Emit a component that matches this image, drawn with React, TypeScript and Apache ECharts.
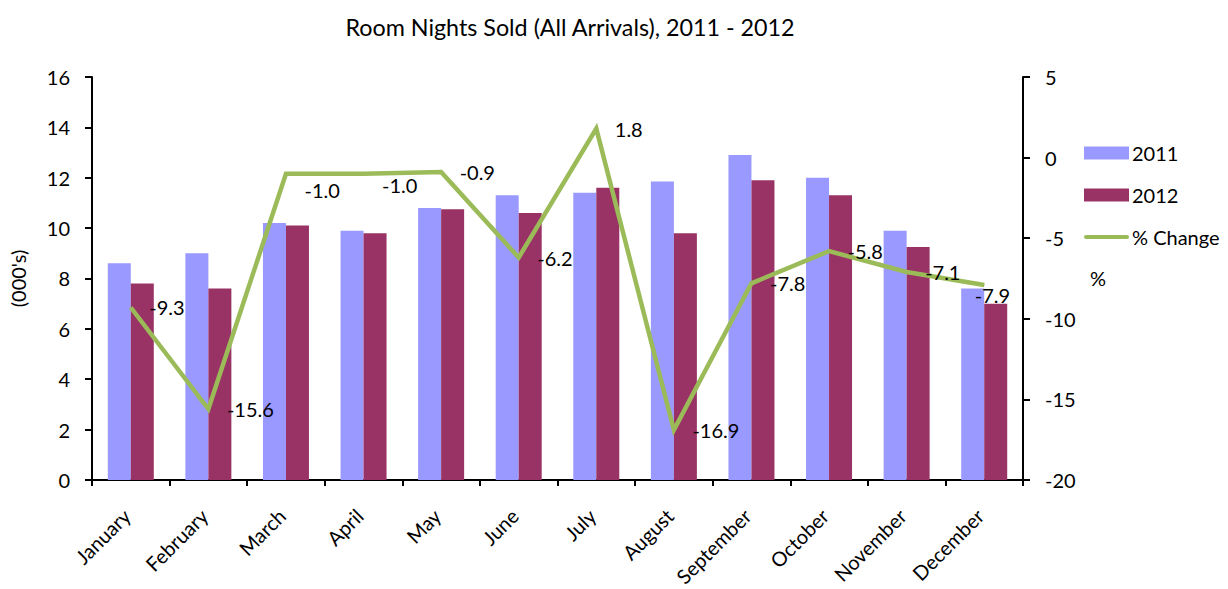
import React, { useEffect, useRef } from "react";
import * as echarts from "echarts";

const months = ["January", "February", "March", "April", "May", "June", "July", "August", "September", "October", "November", "December"];
const sold2011 = [8.6, 9.0, 10.2, 9.9, 10.8, 11.3, 11.4, 11.85, 12.9, 12.0, 9.9, 7.6];
const sold2012 = [7.8, 7.6, 10.1, 9.8, 10.75, 10.6, 11.6, 9.8, 11.9, 11.3, 9.25, 7.0];
const pctChange = [-9.3, -15.6, -1.0, -1.0, -0.9, -6.2, 1.8, -16.9, -7.8, -5.8, -7.1, -7.9];
// label nudges (dx, dy) per month for the % Change labels
const labelNudge: Record<number, [number, number]> = { 2: [0, 16], 3: [0, 11], 11: [-28, 10] };

const FONT = "Lato, 'Open Sans', sans-serif";
const FS = 20;

export default function App() {
  const ref = useRef<HTMLDivElement>(null);
  useEffect(() => {
    document.body.style.margin = "0";
    const chart = echarts.init(ref.current!, null, { renderer: "svg" });
    chart.setOption({
      animation: false,
      backgroundColor: "#ffffff",
      textStyle: { fontFamily: FONT, color: "#000" },
      title: {
        text: "Room Nights Sold (All Arrivals), 2011 - 2012",
        left: 570,
        textAlign: "center",
        top: 15,
        padding: 0,
        textStyle: { fontFamily: FONT, fontSize: 23.3, fontWeight: "normal", color: "#000" },
      },
      legend: {
        orient: "vertical",
        left: 1084,
        top: 143,
        padding: 0,
        itemWidth: 45,
        itemHeight: 13,
        itemGap: 22,
        textStyle: { fontFamily: FONT, fontSize: FS, color: "#000", padding: [0, 0, 0, -2] },
        data: [
          { name: "2011", icon: "rect" },
          { name: "2012", icon: "rect" },
          { name: "% Change", icon: "path://M2,0 H43 A2,2 0 0 1 43,4 H2 A2,2 0 0 1 2,0 Z" },
        ],
      },
      grid: { left: 90, right: 205, top: 77, bottom: 108, containLabel: false },
      xAxis: {
        type: "category",
        data: months,
        axisLine: { lineStyle: { color: "#000", width: 2 } },
        axisTick: { show: true, alignWithLabel: false, length: 6, lineStyle: { color: "#000", width: 2 } },
        axisLabel: { rotate: 45, fontSize: FS, color: "#000", fontFamily: FONT, margin: 28, interval: 0, padding: [0, 6, 0, 0] },
      },
      yAxis: [
        {
          type: "value",
          min: 0,
          max: 16,
          interval: 2,
          name: "(000's)",
          nameLocation: "middle",
          nameRotate: 90,
          nameGap: 64,
          nameTextStyle: { fontSize: FS, color: "#000", fontFamily: FONT },
          axisLine: { show: true, lineStyle: { color: "#000", width: 2 } },
          axisTick: { show: true, length: 7, lineStyle: { color: "#000", width: 2 } },
          axisLabel: { fontSize: FS, color: "#000", fontFamily: FONT, margin: 22 },
          splitLine: { show: false },
        },
        {
          type: "value",
          min: -20,
          max: 5,
          interval: 5,
          position: "right",
          name: "%",
          nameLocation: "middle",
          nameRotate: 0,
          nameGap: 67,
          nameTextStyle: { fontSize: FS, color: "#000", fontFamily: FONT, padding: [0, 0, -58, 0] },
          axisLine: { show: true, lineStyle: { color: "#000", width: 2 } },
          axisTick: { show: true, length: 7, lineStyle: { color: "#000", width: 2 } },
          axisLabel: { fontSize: FS, color: "#000", fontFamily: FONT, margin: 22 },
          splitLine: { show: false },
        },
      ],
      series: [
        {
          name: "2011",
          type: "bar",
          data: sold2011,
          barWidth: 23,
          barGap: "0%",
          itemStyle: { color: "#9999FF" },
        },
        {
          name: "2012",
          type: "bar",
          data: sold2012,
          barWidth: 23,
          barGap: "0%",
          itemStyle: { color: "#993366" },
        },
        {
          name: "% Change",
          type: "line",
          yAxisIndex: 1,
          data: pctChange.map((v, i) => {
            const n = labelNudge[i];
            return n ? { value: v, label: { offset: n } } : v;
          }),
          symbol: "circle",
          symbolSize: 1,
          showSymbol: true,
          lineStyle: { color: "#9BBB59", width: 4.5, join: "miter" },
          itemStyle: { color: "#9BBB59" },
          z: 5,
          label: {
            show: true,
            position: "right",
            distance: 18,
            fontSize: FS,
            color: "#000",
            fontFamily: FONT,
            formatter: (p: any) => Number(p.value).toFixed(1),
          },
        },
      ],
    });
    return () => chart.dispose();
  }, []);
  return <div ref={ref} style={{ width: 1228, height: 589, position: "absolute", left: 0, top: 0 }} />;
}
